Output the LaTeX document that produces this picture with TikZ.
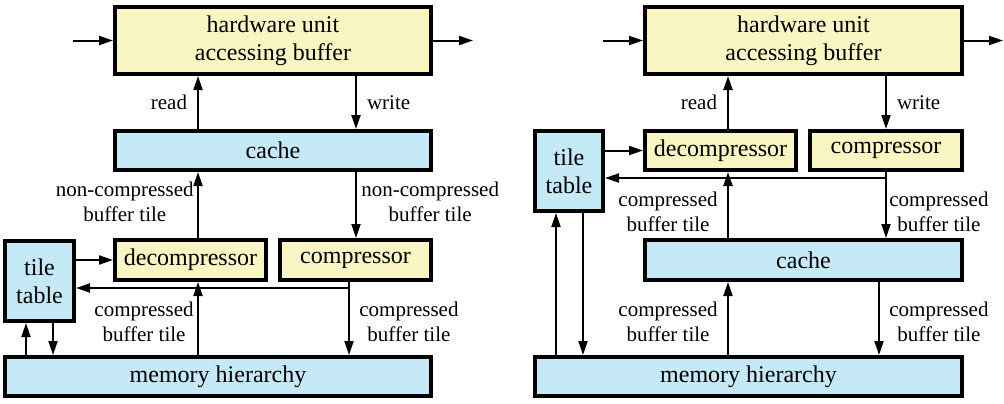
\documentclass[tikz,border=0pt]{standalone}
\usepackage{fontspec}
\setmainfont{Liberation Serif}
\usetikzlibrary{arrows.meta}

\definecolor{unityellow}{RGB}{249,246,196}
\definecolor{memblue}{RGB}{198,233,247}

\tikzset{
  box/.style={draw, line width=2pt, inner sep=0pt, align=center,
    font=\fontsize{12}{14}\selectfont},
  ybox/.style={box, fill=unityellow},
  bbox/.style={box, fill=memblue},
  lbl/.style={align=center, inner sep=0pt, font=\fontsize{10.5}{12.5}\selectfont},
  flow/.style={line width=1pt, -{Triangle[length=7pt,width=4.5pt]}}
}

\begin{document}
\begin{tikzpicture}[x=0.5pt, y=-0.5pt]
  \useasboundingbox (0,0) rectangle (1004,403);

  % left: cache above the compressor
  \node[ybox, minimum width=158pt, minimum height=33.5pt] (hwL) at (273,40.5) {hardware unit\\accessing buffer};
  \node[bbox, minimum width=158pt, minimum height=19.5pt] (cacheL) at (273,150.5) {cache};
  \node[bbox, minimum width=34.5pt, minimum height=40pt] (tileL) at (39.5,281) {tile\\table};
  \node[ybox, minimum width=75.5pt, minimum height=20pt] (decL) at (190.5,260) {decompressor};
  \node[ybox, minimum width=75.5pt, minimum height=20pt] (compL) at (355.5,260) {compressor};
  \node[bbox, minimum width=213pt, minimum height=19.5pt] (memL) at (218,376.5) {memory hierarchy};

  \coordinate (inL) at (73,40.5);
  \coordinate (outL) at (473,40.5);
  \coordinate (upL) at (198,0);
  \coordinate (dnL) at (356,0);
  \coordinate (cdL) at (349,0);
  \coordinate (brL) at (349,288);
  \coordinate (tuL) at (26,0);
  \coordinate (tdL) at (53,0);

  \draw[flow] (inL) -- (hwL.west);
  \draw[flow] (hwL.east) -- (outL);
  \draw[flow] (cacheL.north -| upL) -- (hwL.south -| upL) node[lbl, midway, left=5pt] {read};
  \draw[flow] (hwL.south -| dnL) -- (cacheL.north -| dnL) node[lbl, midway, right=5pt] {write};
  \draw[flow] (decL.north -| upL) -- (cacheL.south -| upL);
  \draw[flow] (cacheL.south -| dnL) -- (compL.north -| dnL);
  \draw[flow] (tileL.east |- decL) -- (decL.west);
  \draw[flow] (compL.south -| cdL) -- (memL.north -| cdL);
  \draw[flow] (brL) -- (tileL.east |- brL);
  \draw[flow] (memL.north -| upL) -- (decL.south -| upL);
  \draw[flow] (memL.north -| tuL) -- (tileL.south -| tuL);
  \draw[flow] (tileL.south -| tdL) -- (memL.north -| tdL);

  \node[lbl, anchor=east] (ncL) at (194,202) {non-compressed\\buffer tile};
  \node[lbl, anchor=west] (ncR) at (361,202) {non-compressed\\buffer tile};
  \node[lbl, anchor=east] (cbL) at (194,322) {compressed\\buffer tile};
  \node[lbl, anchor=west] (cbR) at (359,322) {compressed\\buffer tile};

  % right: compressor above the cache
  \node[ybox, minimum width=158.5pt, minimum height=33.5pt] (hwR) at (803.5,40.5) {hardware unit\\accessing buffer};
  \node[bbox, minimum width=34pt, minimum height=40pt] (tileR) at (569,171) {tile\\table};
  \node[ybox, minimum width=75.5pt, minimum height=19.5pt] (decR) at (720.5,150.5) {decompressor};
  \node[ybox, minimum width=76pt, minimum height=19.5pt] (compR) at (886,150.5) {compressor};
  \node[bbox, minimum width=158.5pt, minimum height=20pt] (cacheR) at (803.5,260) {cache};
  \node[bbox, minimum width=213.5pt, minimum height=19.5pt] (memR) at (748.5,376.5) {memory hierarchy};

  \coordinate (inR) at (603,40.5);
  \coordinate (outR) at (1003,40.5);
  \coordinate (upR) at (728,0);
  \coordinate (dnR) at (886,0);
  \coordinate (cdR) at (879,0);
  \coordinate (brR) at (886,178);
  \coordinate (tuR) at (556,0);
  \coordinate (tdR) at (583,0);

  \draw[flow] (inR) -- (hwR.west);
  \draw[flow] (hwR.east) -- (outR);
  \draw[flow] (decR.north -| upR) -- (hwR.south -| upR) node[lbl, midway, left=5pt] {read};
  \draw[flow] (hwR.south -| dnR) -- (compR.north -| dnR) node[lbl, midway, right=5pt] {write};
  \draw[flow] (tileR.east |- decR) -- (decR.west);
  \draw[flow] (compR.south -| dnR) -- (cacheR.north -| dnR);
  \draw[flow] (brR) -- (tileR.east |- brR);
  \draw[flow] (cacheR.north -| upR) -- (decR.south -| upR);
  \draw[flow] (memR.north -| upR) -- (cacheR.south -| upR);
  \draw[flow] (cacheR.south -| cdR) -- (memR.north -| cdR);
  \draw[flow] (memR.north -| tuR) -- (tileR.south -| tuR);
  \draw[flow] (tileR.south -| tdR) -- (memR.north -| tdR);

  \node[lbl, anchor=east] (ucL) at (718,212) {compressed\\buffer tile};
  \node[lbl, anchor=west] (ucR) at (889,212) {compressed\\buffer tile};
  \node[lbl, anchor=east] (lcL) at (718,322) {compressed\\buffer tile};
  \node[lbl, anchor=west] (lcR) at (889,322) {compressed\\buffer tile};
\end{tikzpicture}
\end{document}
